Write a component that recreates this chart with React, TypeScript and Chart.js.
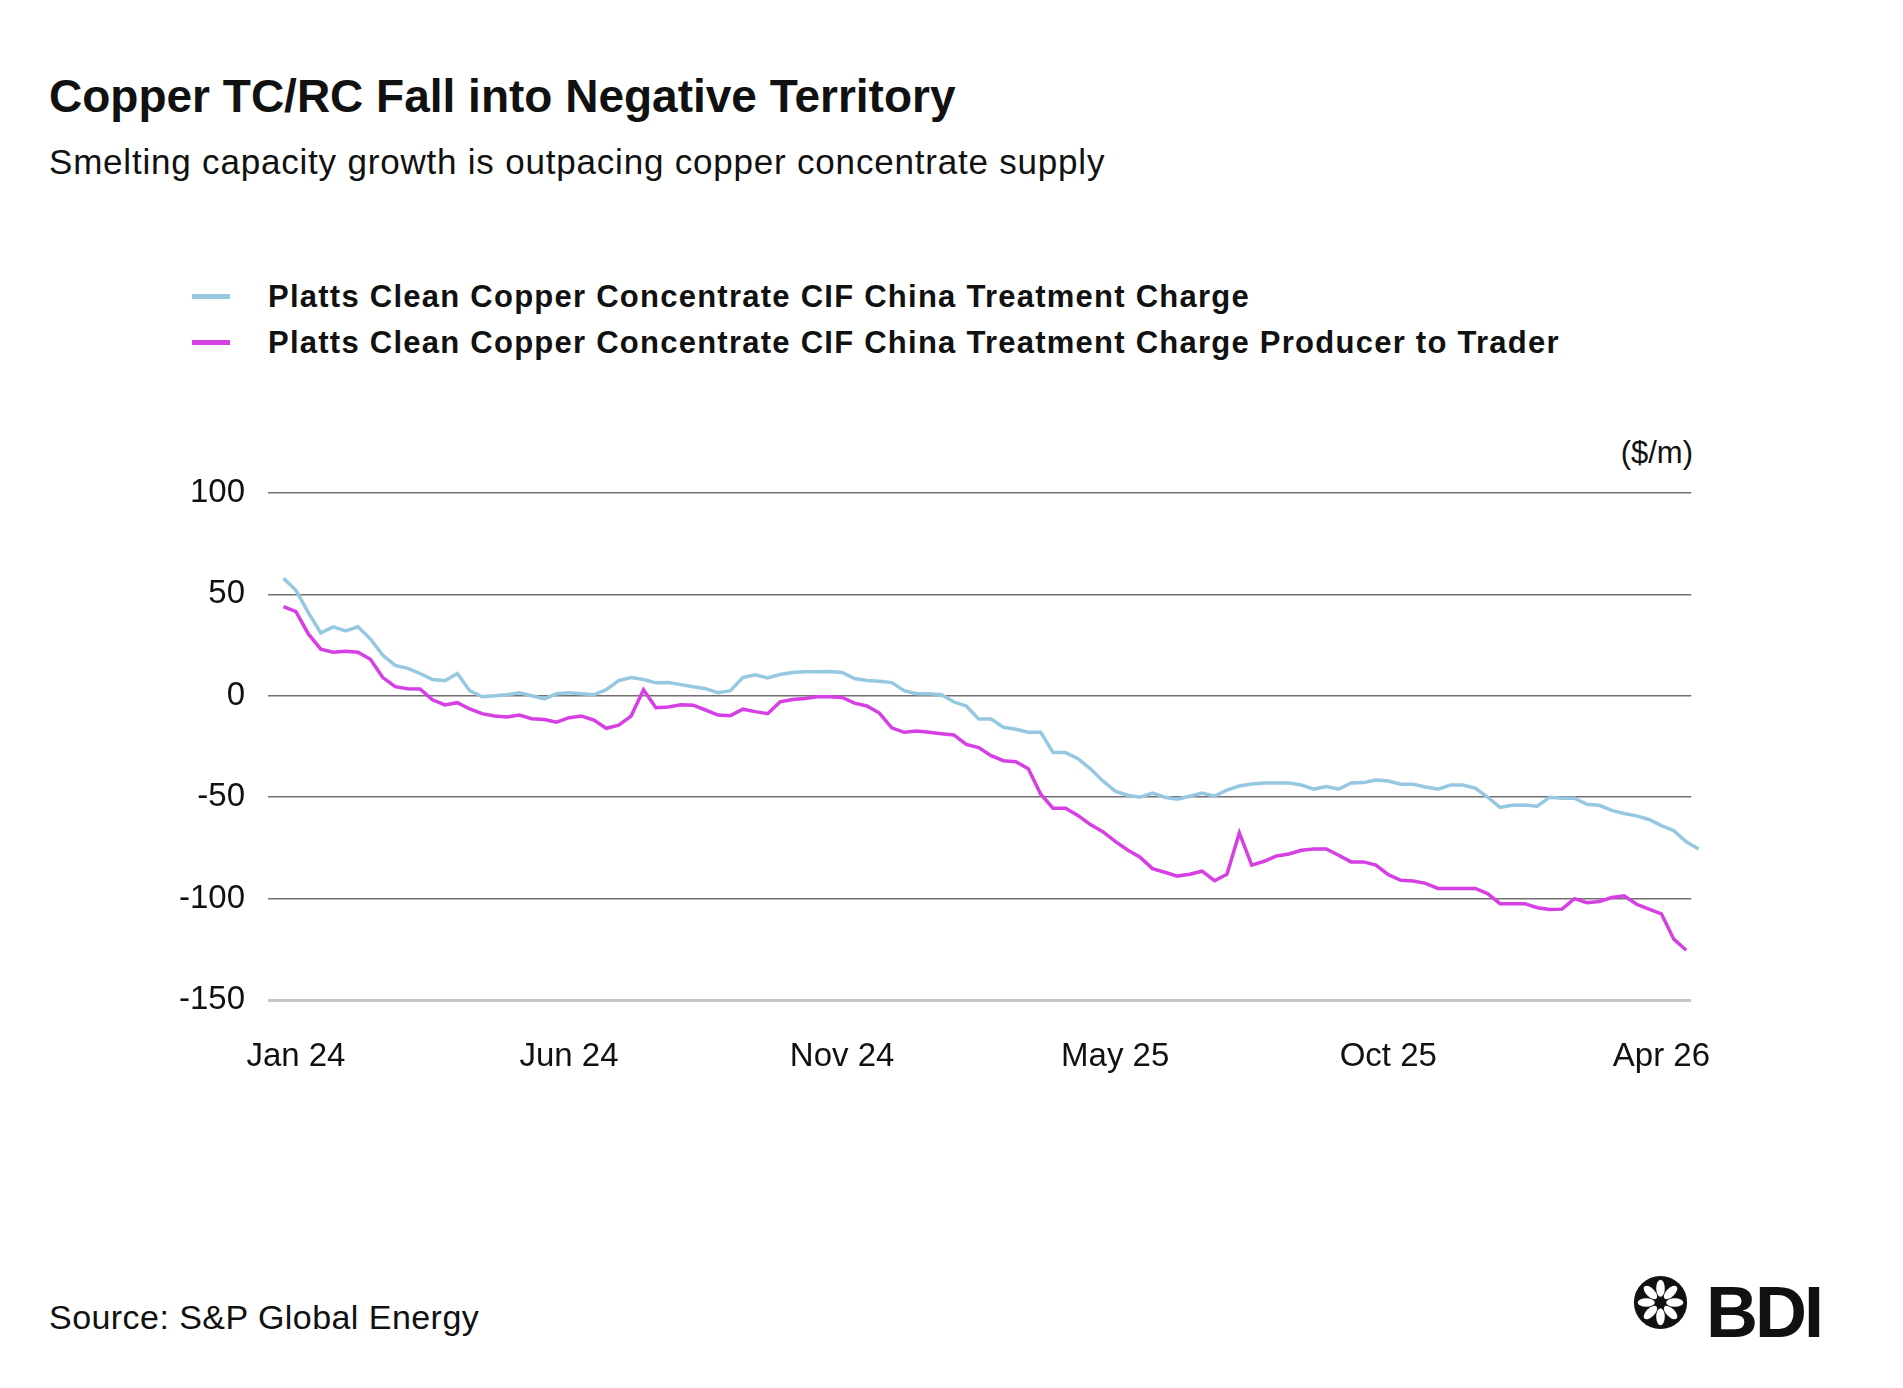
import { useEffect, useRef } from "react";
import { Chart, registerables } from "chart.js";

Chart.register(...registerables);

const FONT = '"Liberation Sans", Arial, Helvetica, sans-serif';

const seriesNames = [
  "Platts Clean Copper Concentrate CIF China Treatment Charge",
  "Platts Clean Copper Concentrate CIF China Treatment Charge Producer to Trader",
];
const seriesColors = ["#96c8e2", "#d63fe3"];

// x axis labels sit on these positions of the weekly series
const tickIndex = [1, 23, 45, 67, 89, 111];
const tickLabels = ["Jan 24", "Jun 24", "Nov 24", "May 25", "Oct 25", "Apr 26"];

// $/mt
const treatmentCharge = [
  58, 52, 41, 31, 34, 32, 34, 28, 20, 15,
  13.5, 11, 8, 7.4, 11, 2.5, -0.5, 0, 0.5, 1.5,
  0, -1.5, 1, 1.5, 1, 0.5, 3, 7.5, 9, 8,
  6.4, 6.5, 5.5, 4.5, 3.5, 1.5, 2.5, 9, 10.3, 8.8,
  10.5, 11.5, 11.8, 11.8, 12, 11.5, 8.5, 7.5, 7.2, 6.5,
  2.5, 1, 1, 0.5, -3, -5, -11.5, -11.5, -15.5, -16.5,
  -18, -18, -28, -28, -31, -36, -42, -47, -49, -50,
  -48, -50, -51, -49.5, -48, -49.5, -46.5, -44.5, -43.5, -43,
  -43, -43, -44, -46, -44.8, -46, -43, -42.8, -41.5, -42,
  -43.6, -43.6, -45, -46, -44, -44, -45.5, -50, -55, -54,
  -53.8, -54.4, -50, -50.5, -50.5, -53.5, -54, -56.5, -58, -59.2,
  -61, -64, -66.5, -72, -75.5,
];

const producerToTrader = [
  44, 41.5, 30.5, 23, 21.5, 22, 21.5, 18, 9, 4.5,
  3.5, 3.4, -2, -4.5, -3.4, -6.5, -8.8, -10, -10.5, -9.5,
  -11.3, -11.7, -13, -10.8, -10, -12, -16, -14.5, -10, 3,
  -5.9, -5.5, -4.4, -4.6, -7, -9.5, -9.8, -6.6, -7.8, -8.8,
  -3, -1.8, -1.3, -0.5, -0.5, -0.8, -3.6, -5, -8.5, -15.8,
  -18, -17.4, -18, -18.7, -19.3, -24, -25.5, -29.5, -32, -32.5,
  -36, -48.5, -55.5, -55.5, -59, -63.5, -67, -71.8, -76, -79.6,
  -85.2, -87, -88.9, -88, -86.5, -91.2, -88, -67.6, -83.5, -81.6,
  -79, -78, -76.2, -75.5, -75.5, -78.6, -81.9, -81.9, -83.5, -88.2,
  -91, -91.3, -92.5, -95, -95, -95, -95, -97.5, -102.5, -102.5,
  -102.5, -104.5, -105.4, -105.2, -100, -102, -101.4, -99.5, -98.6, -102.8,
  -105.2, -107.5, -120, -125.5,
];

function TcChart() {
  const ref = useRef<HTMLCanvasElement>(null);
  useEffect(() => {
    const chart = new Chart(ref.current!, {
      type: "line",
      data: {
        datasets: [treatmentCharge, producerToTrader].map((s, k) => ({
          label: seriesNames[k],
          data: s.map((v, i) => ({ x: i, y: v })),
          borderColor: seriesColors[k],
          borderWidth: 3.5,
          pointRadius: 0,
          tension: 0,
          clip: false as any,
        })),
      },
      options: {
        animation: false,
        responsive: false,
        layout: { padding: { top: 53, right: 47, left: 0, bottom: 0 } },
        plugins: { legend: { display: false }, tooltip: { enabled: false } },
        scales: {
          x: {
            type: "linear",
            min: -1.25,
            max: 113.4,
            grid: { display: false },
            border: { display: false },
            afterBuildTicks: (s: any) => {
              s.ticks = tickIndex.map((v) => ({ value: v }));
            },
            afterFit: (s: any) => {
              s.height = 90;
            },
            ticks: {
              autoSkip: false,
              maxRotation: 0,
              padding: 29,
              color: "#111",
              font: { family: FONT, size: 33 },
              callback: (v: any) => tickLabels[tickIndex.indexOf(Number(v))] ?? "",
            },
          },
          y: {
            min: -150,
            max: 100,
            afterFit: (s: any) => {
              s.width = 118;
            },
            border: { display: false },
            grid: {
              drawTicks: false,
              color: (c: any) => (c.tick && c.tick.value === -150 ? "#c6c6c6" : "#707070"),
              lineWidth: (c: any) => (c.tick && c.tick.value === -150 ? 3 : 1.5),
            },
            ticks: {
              stepSize: 50,
              padding: 23,
              color: "#111",
              font: { family: FONT, size: 33 },
            },
          },
        },
      },
    });
    return () => chart.destroy();
  }, []);

  return (
    <canvas
      ref={ref}
      width={1590}
      height={650}
      style={{ position: "absolute", left: 150, top: 440, width: 1590, height: 650 }}
    />
  );
}

function Logo() {
  const petals = [0, 45, 90, 135, 180, 225, 270, 315];
  return (
    <svg width={57} height={57} viewBox="-30 -30 60 60" style={{ position: "absolute", left: 1632, top: 1274 }}>
      <circle r={28} fill="#111" />
      {petals.map((a) => (
        <ellipse key={a} cx={0} cy={-15} rx={4.5} ry={9} fill="#fff" transform={`rotate(${a})`} />
      ))}
      <circle r={5} fill="#111" />
    </svg>
  );
}

export default function App() {
  const text = { position: "absolute" as const, fontFamily: FONT, color: "#111", whiteSpace: "nowrap" as const, lineHeight: 1 };
  return (
    <div style={{ position: "absolute", left: 0, top: 0, width: 1903, height: 1388, background: "#fff", overflow: "hidden" }}>
      <div style={{ ...text, left: 49, top: 73, fontSize: 46, fontWeight: 700 }}>Copper TC/RC Fall into Negative Territory</div>
      <div style={{ ...text, left: 49, top: 144, fontSize: 35, letterSpacing: 0.8 }}>
        Smelting capacity growth is outpacing copper concentrate supply
      </div>
      {seriesNames.map((n, k) => (
        <div key={n}>
          <div style={{ position: "absolute", left: 192, top: 294 + k * 46, width: 38, height: 5, background: seriesColors[k] }} />
          <div style={{ ...text, left: 268, top: 281 + k * 46, fontSize: 31, fontWeight: 700, letterSpacing: 1.25 }}>{n}</div>
        </div>
      ))}
      <div style={{ ...text, right: 210, top: 437, fontSize: 31 }}>($/m)</div>
      <TcChart />
      <div style={{ ...text, left: 49, top: 1300, fontSize: 34, letterSpacing: 0.45 }}>Source: S&amp;P Global Energy</div>
      <Logo />
      <div style={{ ...text, left: 1706, top: 1276, fontSize: 72, fontWeight: 700, letterSpacing: -3 }}>BDI</div>
    </div>
  );
}
